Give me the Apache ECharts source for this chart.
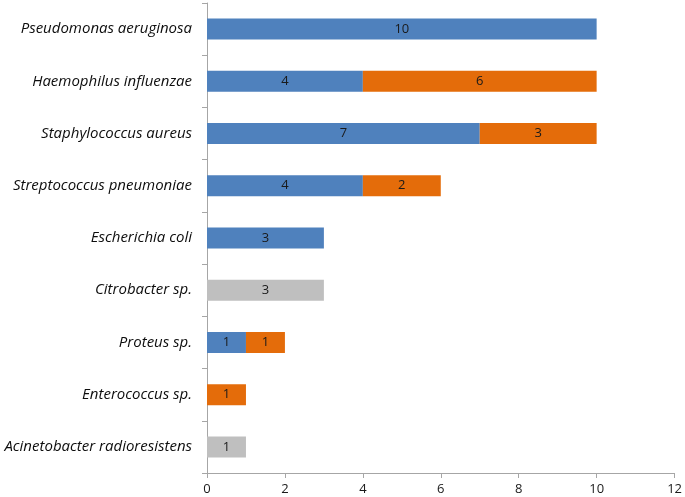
<!DOCTYPE html>
<html><head><meta charset="utf-8">
<script src="https://cdn.jsdelivr.net/npm/echarts@6/dist/echarts.min.js"></script>
<style>html,body{margin:0;padding:0;background:#fff}#c{width:685px;height:497px}</style>
</head><body><div id="c"></div>
<script>
const categories = ["Pseudomonas aeruginosa","Haemophilus influenzae","Staphylococcus aureus","Streptococcus pneumoniae","Escherichia coli","Citrobacter sp.","Proteus sp.","Enterococcus sp.","Acinetobacter radioresistens"];
const blueValues = [10,4,7,4,3,null,1,null,null];
const orangeValues = [null,6,3,2,null,null,1,1,null];
const grayValues = [null,null,null,null,null,3,null,null,1];
const xTicks = [0,2,4,6,8,10,12];

const font = "'Open Sans', 'Liberation Sans', sans-serif";
function mk(name, data, color){
  return {name, type:'bar', stack:'a', data, barWidth:21,
    itemStyle:{color},
    label:{show:true, position:'inside', color:'#1a1a1a', fontSize:13, fontFamily:font,
      formatter:p=>p.value==null?'':String(p.value)}};
}
const chart = echarts.init(document.getElementById('c'));
chart.setOption({
  animation:false,
  grid:{left:207,right:8,top:3,bottom:24,containLabel:false},
  xAxis:{type:'value',min:xTicks[0],max:xTicks[xTicks.length-1],interval:2,
    axisLine:{show:true,lineStyle:{color:'#a6a6a6'}},
    axisTick:{show:true,length:5,lineStyle:{color:'#a6a6a6'}},
    splitLine:{show:false},
    axisLabel:{color:'#1a1a1a',fontSize:13,fontFamily:font,margin:10}},
  yAxis:{type:'category',data:categories,inverse:true,
    axisLine:{show:true,lineStyle:{color:'#a6a6a6'}},
    axisTick:{show:true,length:5,lineStyle:{color:'#a6a6a6'}},
    axisLabel:{color:'#0d0d0d',fontSize:15,fontStyle:'italic',fontFamily:font,margin:15}},
  series:[mk('A',blueValues,'#4f81bd'),mk('B',orangeValues,'#e46c0a'),mk('C',grayValues,'#bfbfbf')]
});
</script></body></html>
